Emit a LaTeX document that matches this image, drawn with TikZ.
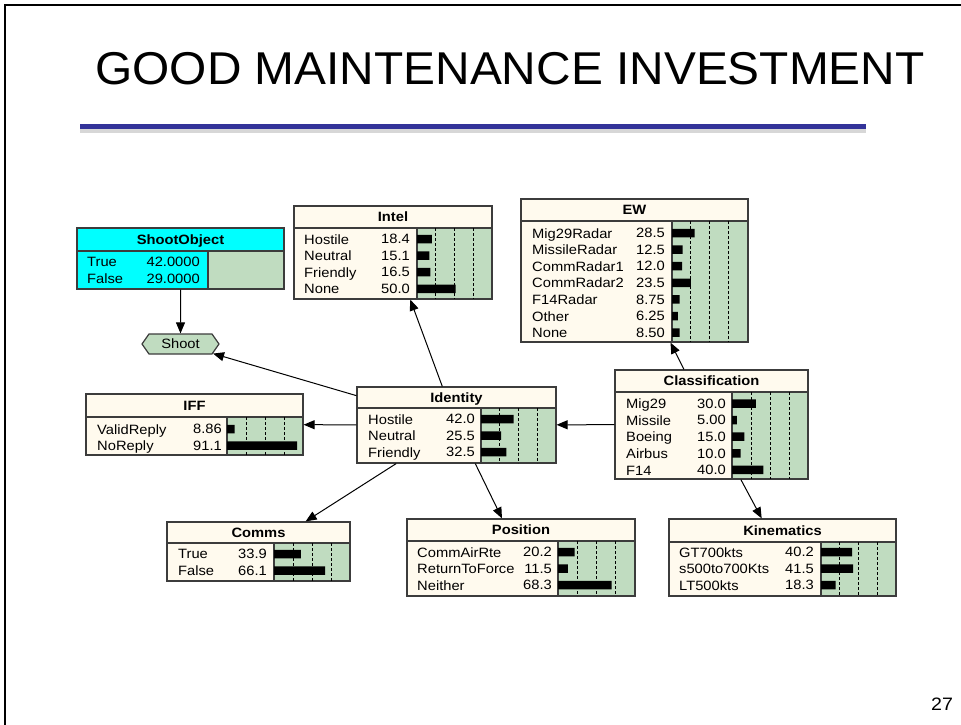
\documentclass[tikz,border=0pt]{standalone}
\usepackage{fontspec}
\setmainfont{Liberation Sans}[FakeStretch=1.09]
\newfontfamily\titlefont{Liberation Sans}[FakeStretch=1.04]
\usetikzlibrary{arrows.meta,shapes.symbols}
\definecolor{cream}{RGB}{255,250,238}
\definecolor{bargreen}{RGB}{192,220,192}
\definecolor{edge}{RGB}{60,60,60}
\definecolor{findcyan}{RGB}{0,255,255}
\definecolor{slideblue}{RGB}{51,51,153}
\definecolor{rulegray}{RGB}{215,215,215}
\tikzset{
  netbox/.style={draw=edge, fill=cream, line width=1.2pt, inner sep=0pt},
  findbox/.style={netbox, fill=findcyan},
  belief/.style={draw=edge, fill=bargreen, line width=1.2pt},
  headline/.style={draw=edge, line width=1.2pt},
  guide/.style={black, dash pattern=on 3pt off 2pt, line width=0.8pt},
  bar/.style={fill=black},
  headtext/.style={font=\fontsize{13.5}{16.6}\selectfont\bfseries, text height=9.7pt, text depth=0pt, inner sep=0pt},
  statetext/.style={align=left, anchor=north west, inner sep=0pt},
  valtext/.style={align=right, anchor=north east, inner sep=0pt},
  shootnode/.style={signal, signal to=west and east, signal pointer angle=110, draw=edge, fill=bargreen, line width=1.2pt, minimum width=77, minimum height=20, inner sep=0pt},
  link/.style={-{Triangle[length=11pt,width=9pt]}, line width=1pt},
}

\begin{document}
\begin{tikzpicture}[x=1pt, y=-1pt, font=\fontsize{13.5}{16.6}\selectfont]
\useasboundingbox (0,0) rectangle (961,725);
\draw[line width=2pt] (4.5,725) -- (4.5,5.5) -- (961,5.5);
\node[font=\titlefont\fontsize{46}{50}\selectfont, anchor=base, inner sep=0pt] (title) at (510,84.5) {GOOD MAINTENANCE INVESTMENT};
\fill[rulegray] (80,128.5) rectangle (866,133);
\fill[slideblue] (80,123.5) rectangle (866,128.5);
\node[font=\fontsize{18}{20}\selectfont, anchor=base, inner sep=0pt] (pagenum) at (942,710) {27};

\node[findbox, minimum width=207, minimum height=61] (shootobject) at (180.5,258.5) {};
\draw[belief] (208,251) rectangle (284,289);
\draw[headline] (77,251) -- (284,251);
\node[headtext] (shootobject-head) at (180.5,239.5) {ShootObject};
\node[statetext] (shootobject-states) at (87,257.15) {True\\False};
\node[valtext] (shootobject-values) at (200,257.15) {42.0000\\29.0000};

\node[shootnode] (shoot) at (180.5,344) {Shoot};

\node[netbox, minimum width=198, minimum height=93] (intel) at (393,252.5) {};
\draw[belief] (417,228) rectangle (492,299);
\draw[headline] (294,228) -- (492,228);
\draw[guide] (435.75,228) -- (435.75,299) (454.5,228) -- (454.5,299) (473.25,228) -- (473.25,299);
\fill[bar] (417,234.75) rectangle (431.8,243.25) (417,251.35) rectangle (429.3,259.85)
  (417,267.95) rectangle (430.4,276.45) (417,284.55) rectangle (455.5,293.05);
\node[headtext] (intel-head) at (393,217) {Intel};
\node[statetext] (intel-states) at (304,234.15) {Hostile\\Neutral\\Friendly\\None};
\node[valtext] (intel-values) at (410,234.15) {18.4\\15.1\\16.5\\50.0};

\node[netbox, minimum width=227, minimum height=143] (ew) at (634.5,270.5) {};
\draw[belief] (672,221) rectangle (748,342);
\draw[headline] (521,221) -- (748,221);
\draw[guide] (690.5,221) -- (690.5,342) (709.5,221) -- (709.5,342) (728,221) -- (728,342);
\fill[bar] (672,228.75) rectangle (694.7,237.25) (672,245.35) rectangle (682.5,253.85)
  (672,261.95) rectangle (682.1,270.45) (672,278.55) rectangle (690.9,287.05)
  (672,295.15) rectangle (679.7,303.65) (672,311.75) rectangle (677.8,320.25)
  (672,328.35) rectangle (679.5,336.85);
\node[headtext] (ew-head) at (634.5,210) {EW};
\node[statetext] (ew-states) at (532,228.15) {Mig29Radar\\MissileRadar\\CommRadar1\\CommRadar2\\F14Radar\\Other\\None};
\node[valtext] (ew-values) at (665,228.15) {28.5\\12.5\\12.0\\23.5\\8.75\\6.25\\8.50};

\node[netbox, minimum width=199, minimum height=76] (identity) at (456.5,425) {};
\draw[belief] (481,408) rectangle (556,463);
\draw[headline] (357,408) -- (556,408);
\draw[guide] (499.75,408) -- (499.75,463) (518.5,408) -- (518.5,463) (537.25,408) -- (537.25,463);
\fill[bar] (481,414.75) rectangle (513.5,423.25) (481,431.35) rectangle (501.1,439.85)
  (481,447.95) rectangle (506.4,456.45);
\node[headtext] (identity-head) at (456.5,397.5) {Identity};
\node[statetext] (identity-states) at (368,414.15) {Hostile\\Neutral\\Friendly};
\node[valtext] (identity-values) at (475,414.15) {42.0\\25.5\\32.5};

\node[netbox, minimum width=193, minimum height=109] (classification) at (711.5,424.5) {};
\draw[belief] (732,392) rectangle (808,479);
\draw[headline] (615,392) -- (808,392);
\draw[guide] (751,392) -- (751,479) (770,392) -- (770,479) (789,392) -- (789,479);
\fill[bar] (732,399.25) rectangle (755.8,407.75) (732,415.85) rectangle (736.8,424.35)
  (732,432.45) rectangle (744.4,440.95) (732,449.05) rectangle (740.6,457.55)
  (732,465.65) rectangle (763.4,474.15);
\node[headtext] (classification-head) at (711.5,381) {Classification};
\node[statetext] (classification-states) at (626,398.65) {Mig29\\Missile\\Boeing\\Airbus\\F14};
\node[valtext] (classification-values) at (726,398.65) {30.0\\5.00\\15.0\\10.0\\40.0};

\node[netbox, minimum width=217, minimum height=61] (iff) at (194.5,424.5) {};
\draw[belief] (227,417) rectangle (303,455);
\draw[headline] (86,417) -- (303,417);
\draw[guide] (246,417) -- (246,455) (265,417) -- (265,455) (284,417) -- (284,455);
\fill[bar] (227,424.75) rectangle (234.7,433.25) (227,441.35) rectangle (297.2,449.85);
\node[headtext] (iff-head) at (194.5,405.5) {IFF};
\node[statetext] (iff-states) at (97,424.15) {ValidReply\\NoReply};
\node[valtext] (iff-values) at (222,424.15) {8.86\\91.1};

\node[netbox, minimum width=183, minimum height=59] (comms) at (258.5,551.5) {};
\draw[belief] (274,543) rectangle (350,581);
\draw[headline] (167,543) -- (350,543);
\draw[guide] (293,543) -- (293,581) (312,543) -- (312,581) (331,543) -- (331,581);
\fill[bar] (274,549.75) rectangle (300.8,558.25) (274,566.35) rectangle (325.2,574.85);
\node[headtext] (comms-head) at (258.5,532.5) {Comms};
\node[statetext] (comms-states) at (178,549.15) {True\\False};
\node[valtext] (comms-values) at (267,549.15) {33.9\\66.1};

\node[netbox, minimum width=228, minimum height=77] (position) at (521,557.5) {};
\draw[belief] (558,541) rectangle (635,596);
\draw[headline] (407,541) -- (635,541);
\draw[guide] (577.25,541) -- (577.25,596) (596.5,541) -- (596.5,596) (615.75,541) -- (615.75,596);
\fill[bar] (558,547.75) rectangle (574.6,556.25) (558,564.35) rectangle (567.9,572.85)
  (558,580.95) rectangle (611.6,589.45);
\node[headtext] (position-head) at (521,530) {Position};
\node[statetext] (position-states) at (417,547.15) {CommAirRte\\ReturnToForce\\Neither};
\node[valtext] (position-values) at (552,547.15) {20.2\\11.5\\68.3};

\node[netbox, minimum width=227, minimum height=77] (kinematics) at (782.5,557.5) {};
\draw[belief] (821,542) rectangle (896,596);
\draw[headline] (669,542) -- (896,542);
\draw[guide] (839.75,542) -- (839.75,596) (858.5,542) -- (858.5,596) (877.25,542) -- (877.25,596);
\fill[bar] (821,547.75) rectangle (852.2,556.25) (821,564.35) rectangle (853.1,572.85)
  (821,580.95) rectangle (835.7,589.45);
\node[headtext] (kinematics-head) at (782.5,530.5) {Kinematics};
\node[statetext] (kinematics-states) at (679,547.15) {GT700kts\\s500to700Kts\\LT500kts};
\node[valtext] (kinematics-values) at (814,547.15) {40.2\\41.5\\18.3};

\draw[link] (shootobject) -- (shoot);
\draw[link] (identity) -- (shoot);
\draw[link] (identity) -- (intel);
\draw[link] (identity) -- (iff);
\draw[link] (identity) -- (comms);
\draw[link] (identity) -- (position);
\draw[link] (classification) -- (identity);
\draw[link] (classification) -- (ew);
\draw[link] (classification) -- (kinematics);
\end{tikzpicture}
\end{document}
